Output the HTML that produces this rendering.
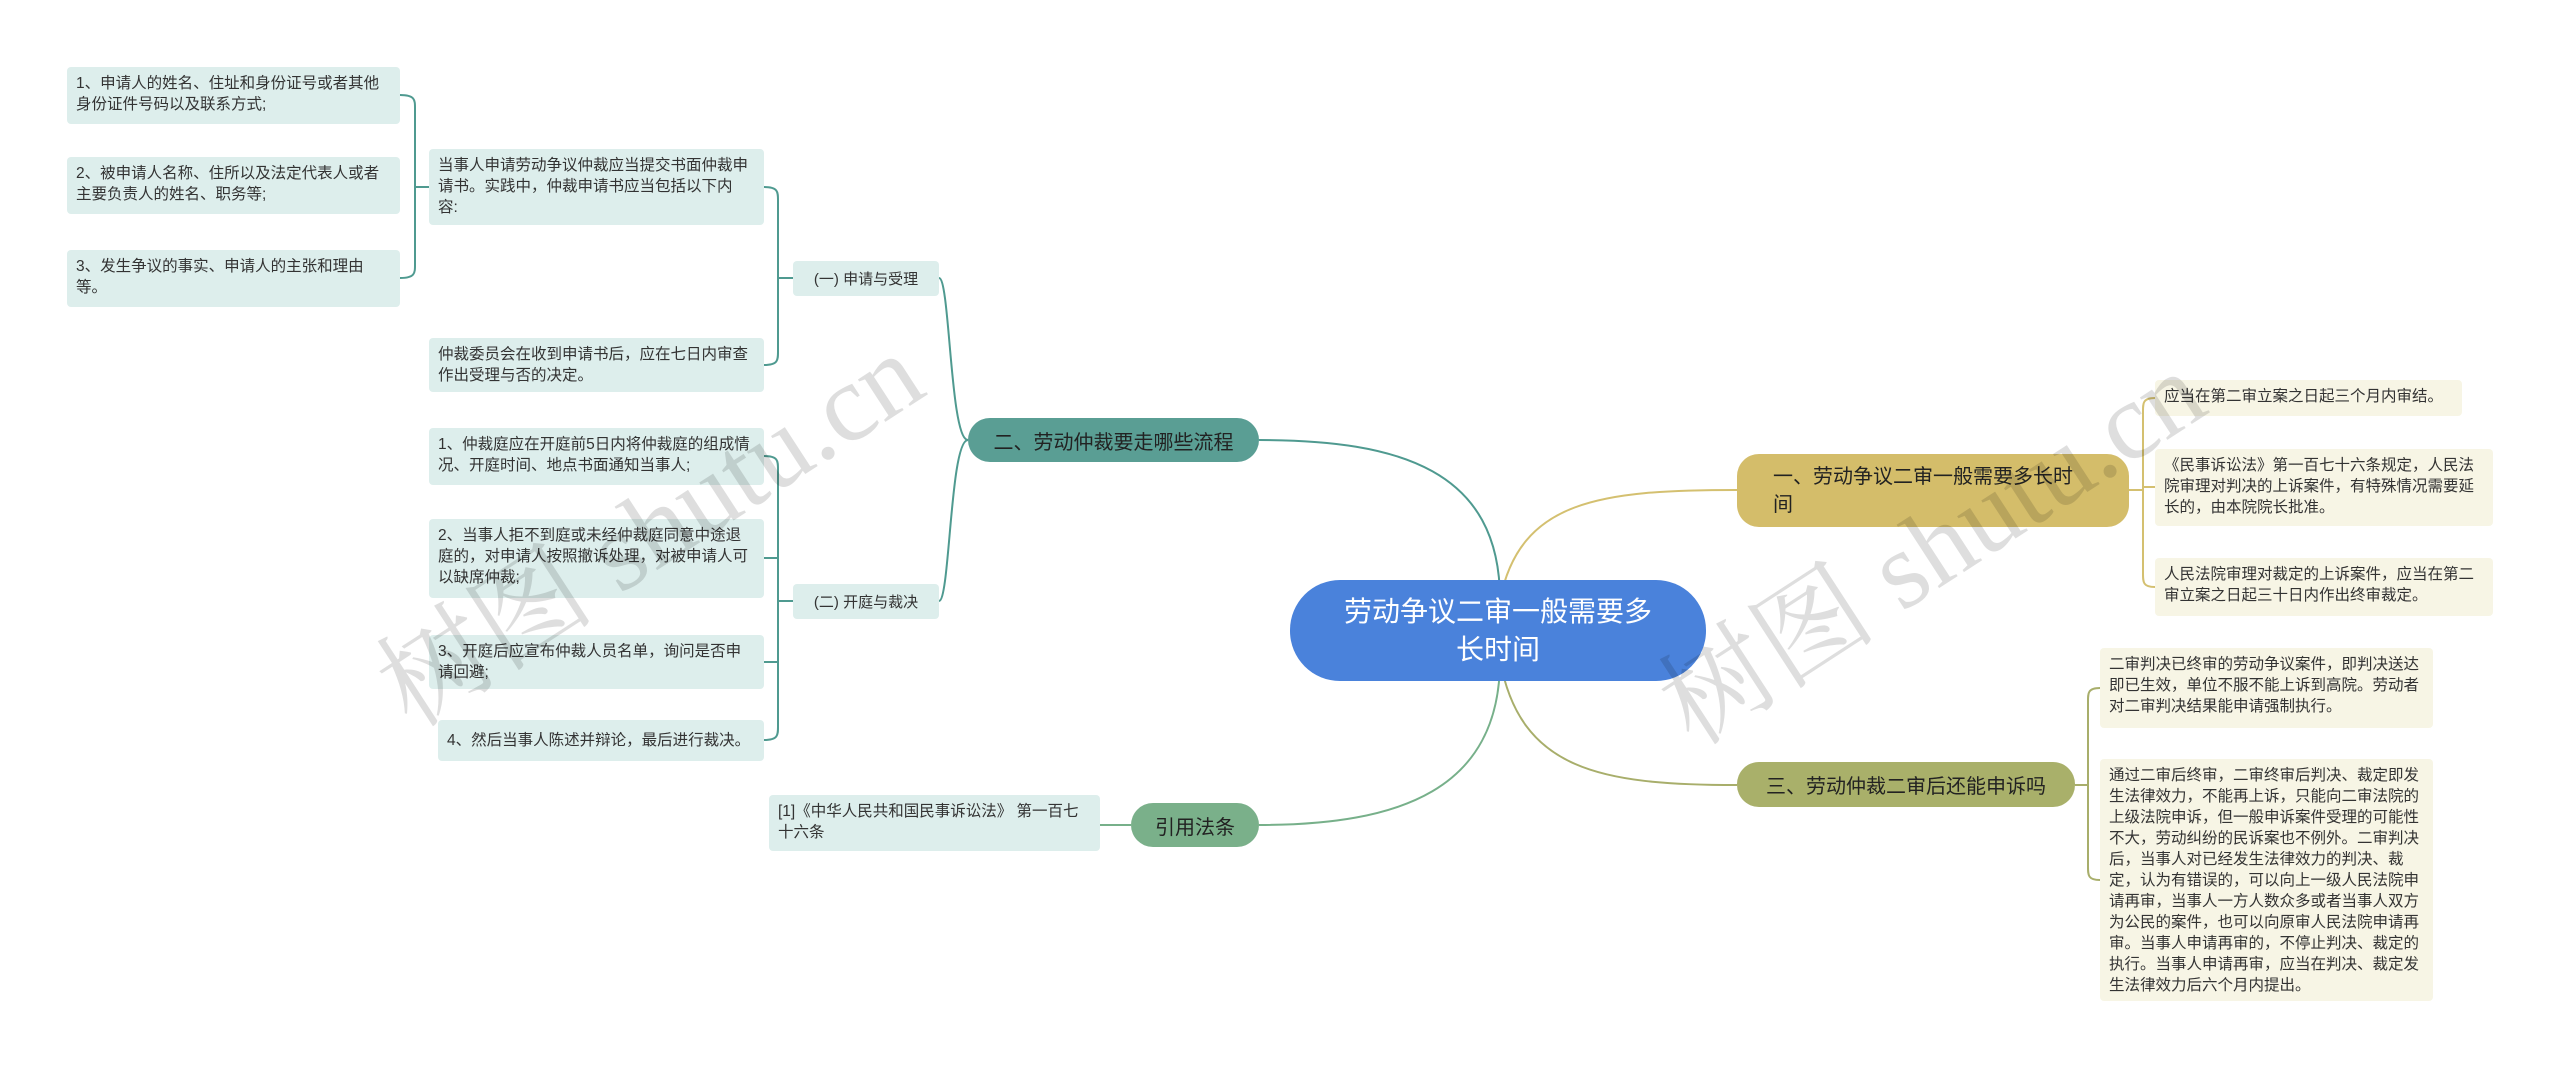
<!DOCTYPE html>
<html><head><meta charset="utf-8">
<style>
body{margin:0;width:2560px;height:1069px;background:#fff;position:relative;overflow:hidden;font-family:"Liberation Sans","Noto Sans CJK SC",sans-serif;}
.n{position:absolute;box-sizing:border-box;}
.lf{background:#ddeeec;color:#333;font-size:15.5px;line-height:21px;padding:6px 12px 6px 9px;border-radius:4px;}
.rf{background:#f7f5e5;color:#333;font-size:15.5px;line-height:21px;padding:6px 12px 6px 9px;border-radius:4px;}
.sub{background:#ddeeec;color:#333;font-size:15px;border-radius:4px;display:flex;align-items:center;justify-content:center;}
.b{color:#222;font-size:20px;border-radius:22px;display:flex;align-items:center;justify-content:center;}
.wm{position:absolute;font-family:"Liberation Serif","Noto Serif CJK SC",serif;font-size:110px;color:rgba(0,0,0,0.13);white-space:nowrap;transform:translate(-50%,-50%) rotate(-33deg);}
</style></head><body>
<svg width="2560" height="1069" style="position:absolute;left:0;top:0" fill="none" stroke-width="2">
<path d="M1500,600 C1500,470 1400,440 1259,440" stroke="#4f9a90"/>
<path d="M1500,660 C1500,790 1400,825 1259,825" stroke="#77b08a"/>
<path d="M1500,600 C1520,500 1600,490 1737,490" stroke="#d4c070"/>
<path d="M1500,660 C1520,770 1600,785 1737,785" stroke="#a8ae6b"/>
<path d="M968,440 C950,440 950,278 939,278" stroke="#4f9a90"/>
<path d="M968,440 C950,440 950,601 939,601" stroke="#4f9a90"/>
<path d="M793,278 H778 M764,187 C778,187 778,192 778,200 V352 C778,360 778,365 764,365" stroke="#4f9a90"/>
<path d="M429,187 H415 M400,95 C415,95 415,100 415,108 V265 C415,273 415,278 400,278" stroke="#4f9a90"/>
<path d="M793,601 H778 M764,456 C778,456 778,461 778,469 V727 C778,735 778,740 764,740 M764,558 H778 M764,662 H778" stroke="#4f9a90"/>
<path d="M1131,825 H1100" stroke="#77b08a"/>
<path d="M2129,490 H2143 M2155,398 C2143,398 2143,403 2143,411 V574 C2143,582 2143,587 2155,587 M2143,487 H2155" stroke="#d4c070"/>
<path d="M2075,785 H2088 M2100,688 C2088,688 2088,693 2088,701 V867 C2088,875 2088,880 2100,880" stroke="#a8ae6b"/>
</svg>

<div class="n b" style="left:1290px;top:580px;width:416px;height:101px;background:#4a82db;color:#fff;font-size:28px;line-height:38px;border-radius:50px;text-align:center;padding:0 50px;">劳动争议二审一般需要多长时间</div>

<div class="n b" style="left:968px;top:418px;width:291px;height:44px;background:#5a9e94;">二、劳动仲裁要走哪些流程</div>
<div class="n b" style="left:1131px;top:803px;width:128px;height:44px;background:#7ab08a;">引用法条</div>
<div class="n b" style="left:1737px;top:454px;width:392px;height:73px;background:#d4bd6a;justify-content:flex-start;padding:0 50px 0 36px;line-height:28px;">一、劳动争议二审一般需要多长时间</div>
<div class="n b" style="left:1737px;top:762px;width:338px;height:45px;background:#a9b06a;">三、劳动仲裁二审后还能申诉吗</div>

<div class="n sub" style="left:793px;top:261px;width:146px;height:35px;">(一) 申请与受理</div>
<div class="n sub" style="left:793px;top:584px;width:146px;height:35px;">(二) 开庭与裁决</div>

<div class="n lf" style="left:67px;top:67px;width:333px;height:57px;">1、申请人的姓名、住址和身份证号或者其他身份证件号码以及联系方式;</div>
<div class="n lf" style="left:67px;top:157px;width:333px;height:57px;">2、被申请人名称、住所以及法定代表人或者主要负责人的姓名、职务等;</div>
<div class="n lf" style="left:67px;top:250px;width:333px;height:57px;">3、发生争议的事实、申请人的主张和理由等。</div>
<div class="n lf" style="left:429px;top:149px;width:335px;height:76px;">当事人申请劳动争议仲裁应当提交书面仲裁申请书。实践中，仲裁申请书应当包括以下内容:</div>
<div class="n lf" style="left:429px;top:338px;width:335px;height:54px;">仲裁委员会在收到申请书后，应在七日内审查作出受理与否的决定。</div>
<div class="n lf" style="left:429px;top:428px;width:335px;height:57px;">1、仲裁庭应在开庭前5日内将仲裁庭的组成情况、开庭时间、地点书面通知当事人;</div>
<div class="n lf" style="left:429px;top:519px;width:335px;height:79px;">2、当事人拒不到庭或未经仲裁庭同意中途退庭的，对申请人按照撤诉处理，对被申请人可以缺席仲裁;</div>
<div class="n lf" style="left:429px;top:635px;width:335px;height:54px;">3、开庭后应宣布仲裁人员名单，询问是否申请回避;</div>
<div class="n lf" style="left:438px;top:720px;width:326px;height:41px;padding-top:10px;">4、然后当事人陈述并辩论，最后进行裁决。</div>
<div class="n lf" style="left:769px;top:795px;width:331px;height:56px;">[1]《中华人民共和国民事诉讼法》 第一百七十六条</div>

<div class="n rf" style="left:2155px;top:380px;width:307px;height:36px;">应当在第二审立案之日起三个月内审结。</div>
<div class="n rf" style="left:2155px;top:449px;width:338px;height:77px;">《民事诉讼法》第一百七十六条规定，人民法院审理对判决的上诉案件，有特殊情况需要延长的，由本院院长批准。</div>
<div class="n rf" style="left:2155px;top:558px;width:338px;height:58px;">人民法院审理对裁定的上诉案件，应当在第二审立案之日起三十日内作出终审裁定。</div>
<div class="n rf" style="left:2100px;top:648px;width:333px;height:80px;">二审判决已终审的劳动争议案件，即判决送达即已生效，单位不服不能上诉到高院。劳动者对二审判决结果能申请强制执行。</div>
<div class="n rf" style="left:2100px;top:759px;width:333px;height:242px;">通过二审后终审，二审终审后判决、裁定即发生法律效力，不能再上诉，只能向二审法院的上级法院申诉，但一般申诉案件受理的可能性不大，劳动纠纷的民诉案也不例外。二审判决后，当事人对已经发生法律效力的判决、裁定，认为有错误的，可以向上一级人民法院申请再审，当事人一方人数众多或者当事人双方为公民的案件，也可以向原审人民法院申请再审。当事人申请再审的，不停止判决、裁定的执行。当事人申请再审，应当在判决、裁定发生法律效力后六个月内提出。</div>

<div class="wm" style="left:645px;top:522px;">树图 shutu.cn</div>
<div class="wm" style="left:1927px;top:540px;">树图 shutu.cn</div>
</body></html>
